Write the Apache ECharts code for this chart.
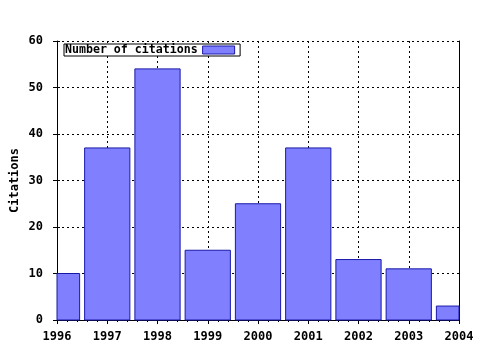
<!DOCTYPE html>
<html><head><meta charset="utf-8">
<script src="https://cdn.jsdelivr.net/npm/echarts@6/dist/echarts.min.js"></script>
<style>html,body{margin:0;padding:0;background:#fff}#c{width:480px;height:350px}</style>
</head><body><div id="c"></div>
<script>
var years = [1996, 1997, 1998, 1999, 2000, 2001, 2002, 2003, 2004];
var citations = [10, 37, 54, 15, 25, 37, 13, 11, 3];
var yTicks = [0, 10, 20, 30, 40, 50, 60];
var seriesName = 'Number of citations';
var yName = 'Citations';

var font = {fontFamily: 'DejaVu Sans Mono', fontWeight: 'bold', fontSize: 12, color: '#000'};
var chart = echarts.init(document.getElementById('c'), null, {renderer: 'canvas'});
var data = years.map(function (y, i) { return [y, citations[i]]; });
var dotted = {show: true, lineStyle: {color: '#000', type: [2, 3], width: 1}};

function renderBar(params, api) {
  var x = api.value(0), v = api.value(1);
  var top = api.coord([x, v]);
  var base = api.coord([x, 0]);
  var w = api.size([1, 0])[0] * 0.9;
  var cs = params.coordSys;
  var rect = echarts.graphic.clipRectByRect(
    {x: top[0] - w / 2, y: top[1], width: w, height: base[1] - top[1]},
    {x: cs.x, y: cs.y, width: cs.width, height: cs.height}
  );
  if (!rect) return null;
  return {type: 'rect', shape: rect, style: api.style({fill: '#8080ff', stroke: '#1818a8', lineWidth: 1})};
}

var yMin = yTicks[0], yMax = yTicks[yTicks.length - 1];
chart.setOption({
  animation: false,
  backgroundColor: '#fff',
  grid: {left: 57, right: 21, top: 41, bottom: 30, containLabel: false, outerBoundsMode: 'none'},
  legend: {
    show: true, left: 64, top: 44, align: 'right', orient: 'horizontal',
    backgroundColor: '#fff', borderColor: '#000', borderWidth: 1, borderRadius: 0,
    padding: [0, 5, 0, 1], itemWidth: 32, itemHeight: 8, itemGap: 5,
    textStyle: Object.assign({}, font, {fontSize: 11.6}), icon: 'rect', data: [seriesName],
    itemStyle: {color: '#8080ff', borderColor: '#1818a8', borderWidth: 1}
  },
  xAxis: [{
    type: 'value', min: years[0], max: years[years.length - 1], interval: 1,
    position: 'bottom',
    axisLine: {show: true, lineStyle: {color: '#000', width: 1}},
    axisTick: {show: true, length: 4, lineStyle: {color: '#000'}},
    minorTick: {show: true, splitNumber: 5, length: 2, lineStyle: {color: '#000'}},
    splitLine: dotted,
    axisLabel: Object.assign({margin: 11, formatter: function (v) { return String(v); }}, font)
  }, {
    type: 'value', min: years[0], max: years[years.length - 1], interval: 1,
    position: 'top',
    axisLine: {show: true, lineStyle: {color: '#000', width: 1}},
    axisTick: {show: true, length: 4, lineStyle: {color: '#000'}},
    minorTick: {show: true, splitNumber: 5, length: 2, lineStyle: {color: '#000'}},
    splitLine: {show: false}, axisLabel: {show: false}
  }],
  yAxis: [{
    type: 'value', min: yMin, max: yMax, interval: 10,
    position: 'left',
    name: yName, nameLocation: 'middle', nameGap: 36, nameRotate: 90,
    nameMoveOverlap: false,
    nameTextStyle: font,
    axisLine: {show: true, lineStyle: {color: '#000', width: 1}},
    axisTick: {show: true, length: 4, lineStyle: {color: '#000'}},
    splitLine: dotted,
    axisLabel: Object.assign({margin: 14}, font)
  }, {
    type: 'value', min: yMin, max: yMax, interval: 10, position: 'right',
    axisLine: {show: true, lineStyle: {color: '#000', width: 1}},
    axisTick: {show: false}, splitLine: {show: false}, axisLabel: {show: false}
  }, {
    type: 'value', min: yMin, max: yMax, interval: 10, position: 'left',
    axisLine: {show: false},
    axisTick: {show: true, inside: true, length: 3, lineStyle: {color: '#000'}},
    splitLine: {show: false}, axisLabel: {show: false}
  }],
  series: [{
    name: seriesName, type: 'custom', data: data, renderItem: renderBar,
    xAxisIndex: 0, yAxisIndex: 0, z: 3,
    encode: {x: 0, y: 1},
    itemStyle: {color: '#8080ff', borderColor: '#1818a8', borderWidth: 1}
  }]
});
</script></body></html>
